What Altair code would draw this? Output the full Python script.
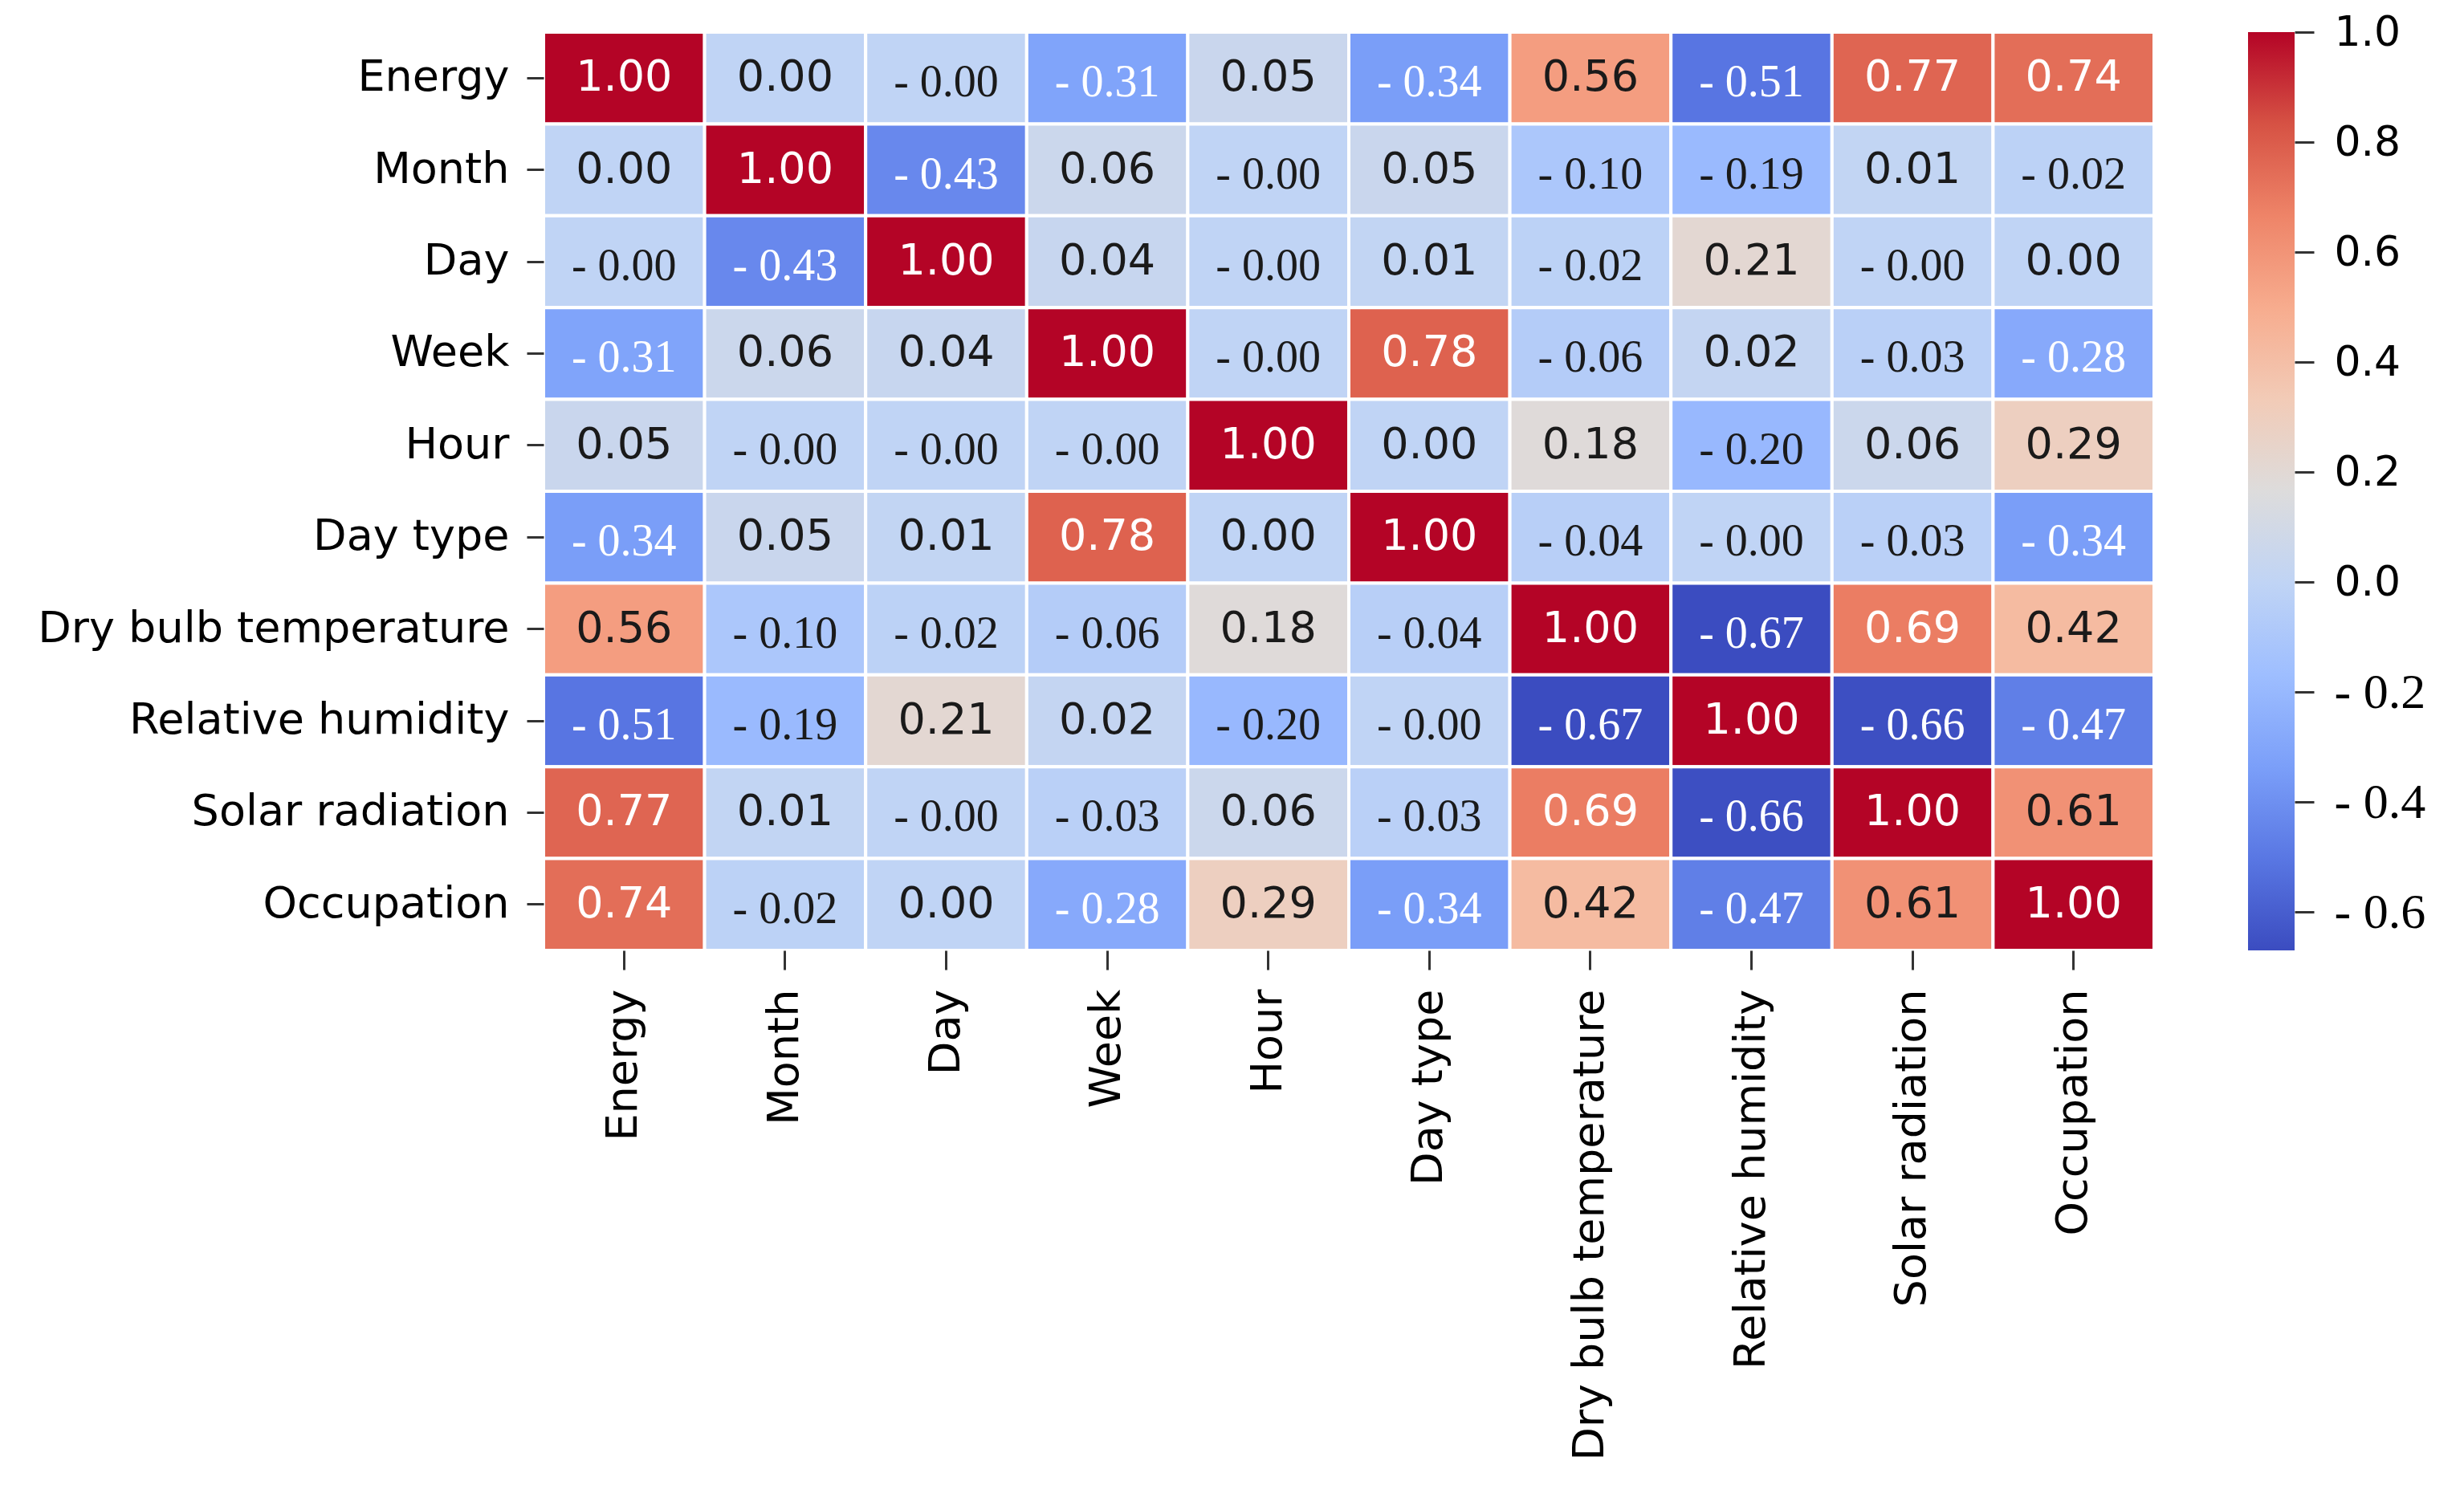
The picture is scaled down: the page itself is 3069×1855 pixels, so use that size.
import math
import altair as alt
import pandas as pd

variables = ["Energy", "Month", "Day", "Week", "Hour", "Day type",
             "Dry bulb temperature", "Relative humidity", "Solar radiation", "Occupation"]

energy = [1.00, 0.00, -0.00, -0.31, 0.05, -0.34, 0.56, -0.51, 0.77, 0.74]
month = [0.00, 1.00, -0.43, 0.06, -0.00, 0.05, -0.10, -0.19, 0.01, -0.02]
day = [-0.00, -0.43, 1.00, 0.04, -0.00, 0.01, -0.02, 0.21, -0.00, 0.00]
week = [-0.31, 0.06, 0.04, 1.00, -0.00, 0.78, -0.06, 0.02, -0.03, -0.28]
hour = [0.05, -0.00, -0.00, -0.00, 1.00, 0.00, 0.18, -0.20, 0.06, 0.29]
day_type = [-0.34, 0.05, 0.01, 0.78, 0.00, 1.00, -0.04, -0.00, -0.03, -0.34]
dry_bulb = [0.56, -0.10, -0.02, -0.06, 0.18, -0.04, 1.00, -0.67, 0.69, 0.42]
rel_hum = [-0.51, -0.19, 0.21, 0.02, -0.20, -0.00, -0.67, 1.00, -0.66, -0.47]
solar = [0.77, 0.01, -0.00, -0.03, 0.06, -0.03, 0.69, -0.66, 1.00, 0.61]
occupation = [0.74, -0.02, 0.00, -0.28, 0.29, -0.34, 0.42, -0.47, 0.61, 1.00]

matrix_rows = [energy, month, day, week, hour, day_type, dry_bulb, rel_hum, solar, occupation]

colorbar_ticks = [-0.6, -0.4, -0.2, 0.0, 0.2, 0.4, 0.6, 0.8, 1.0]
vmin, vmax = -0.67, 1.0

coolwarm = ["#3b4cc0", "#5977e3", "#7b9ff9", "#9ebeff", "#c0d4f5", "#dddcdc",
            "#f2cbb7", "#f7ac8e", "#ee8468", "#d65244", "#b40426"]

records = []
for rname, vals in zip(variables, matrix_rows):
    for cname, v in zip(variables, vals):
        neg = math.copysign(1.0, v) < 0
        label = f"- {abs(v):.2f}" if neg else f"{v:.2f}"
        records.append({"row": rname, "col": cname, "v": v, "neg": neg, "label": label})
df = pd.DataFrame(records)

n = len(coolwarm)
color_domain = [vmin + i * (vmax - vmin) / (n - 1) for i in range(n)]
color_scale = alt.Scale(domain=color_domain, range=coolwarm, interpolate="rgb")

W, H = 2006, 1144

base = alt.Chart(df).encode(
    x=alt.X("col:N", sort=variables, title=None,
            axis=alt.Axis(labelAngle=-90, labelFont="DejaVu Sans", labelFontSize=54,
                          labelColor="#000000", tickSize=24, tickWidth=3, tickColor="#333333",
                          labelPadding=24, domain=False, labelLimit=1000)),
    y=alt.Y("row:N", sort=variables, title=None,
            axis=alt.Axis(labelFont="DejaVu Sans", labelFontSize=54, labelColor="#000000",
                          tickSize=21, tickWidth=3, tickColor="#333333",
                          labelPadding=22, domain=False, labelLimit=1000)),
)

rects = base.mark_rect(stroke="white", strokeWidth=4).encode(
    color=alt.Color("v:Q", scale=color_scale, legend=None)
)

text_color = alt.condition("datum.v > 0.65 || datum.v < -0.25",
                           alt.value("white"), alt.value("#1a1a1a"))

text_pos = base.transform_filter("!datum.neg").mark_text(
    font="DejaVu Sans", fontSize=54, baseline="middle", align="center"
).encode(text="label:N", color=text_color)

text_neg = base.transform_filter("datum.neg").mark_text(
    font="Liberation Serif", fontSize=56, baseline="middle", align="center", dy=6
).encode(text="label:N", color=text_color)

heat = alt.layer(rects, text_pos, text_neg).properties(width=W, height=H)

cb_df = pd.DataFrame({"lo": [vmin], "hi": [vmax]})
gradient = alt.LinearGradient(
    gradient="linear",
    stops=[alt.GradientStop(offset=i / (n - 1), color=c) for i, c in enumerate(coolwarm)],
    x1=0, x2=0, y1=1, y2=0,
)
cbar = alt.Chart(cb_df).mark_rect(color=gradient).encode(
    x=alt.value(0), x2=alt.value(58),
    y=alt.Y("lo:Q", scale=alt.Scale(domain=[vmin, vmax], nice=False, zero=False), title=None,
            axis=alt.Axis(orient="right", values=colorbar_ticks, domain=False, grid=False,
                          tickSize=24, tickWidth=3, tickColor="#333333", labelPadding=25,
                          labelColor="#000000",
                          labelExpr="datum.value < 0 ? '- ' + format(abs(datum.value), '.1f') : format(datum.value, '.1f')",
                          labelFont={"condition": {"test": "datum.value < 0", "value": "Liberation Serif"},
                                     "value": "DejaVu Sans"},
                          labelFontSize={"condition": {"test": "datum.value < 0", "value": 62},
                                         "value": 52})),
    y2="hi:Q",
).properties(width=58, height=H)

chart = alt.hconcat(heat, cbar, spacing=117, bounds="flush").properties(
    padding={"left": 38, "top": 6, "right": 5, "bottom": 5},
    background="white",
).configure_view(stroke=None)

chart.save("out.html", embed_options={"renderer": "svg", "actions": False})
